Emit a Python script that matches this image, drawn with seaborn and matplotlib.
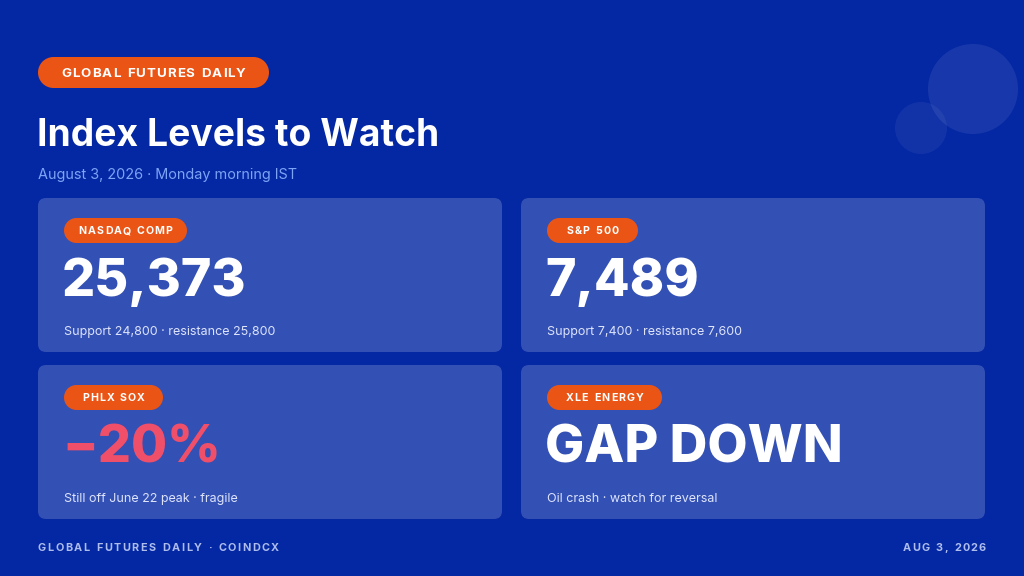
import numpy as np
import pandas as pd
import seaborn as sns
import matplotlib
matplotlib.use('Agg')
import matplotlib.pyplot as plt
from matplotlib.patches import FancyBboxPatch, Circle

# dados do painel
tickers = ['NASDAQ COMP', 'S&P 500', 'PHLX SOX', 'XLE ENERGY']
headlines = ['25,373', '7,489', '\u221220%', 'GAP DOWN']
notes = ['Support 24,800 \u00b7 resistance 25,800',
         'Support 7,400 \u00b7 resistance 7,600',
         'Still off June 22 peak \u00b7 fragile',
         'Oil crash \u00b7 watch for reversal']
is_negative = [False, False, True, False]

badge = 'GLOBAL FUTURES DAILY'
title = 'Index Levels to Watch'
subtitle = 'August 3, 2026 \u00b7 Monday morning IST'
footer_left = 'GLOBAL FUTURES DAILY \u00b7 COINDCX'
footer_right = 'AUG 3, 2026'

# cores
BG = '#0427a3'
CARD = '#3350b4'
ORANGE = '#ea5516'
RED = '#f04f6a'
SUB = '#7da4f5'
NOTE = '#dde4fb'
FOOT = '#aebdec'

sns.set_theme(style='white')
plt.rcParams['font.family'] = ['Inter', 'DejaVu Sans']

fig = plt.figure(figsize=(10.24, 5.76), dpi=100, facecolor=BG)
ax = fig.add_axes([0, 0, 1, 1])
ax.set_xlim(0, 1024)
ax.set_ylim(576, 0)
ax.axis('off')
ax.set_facecolor(BG)

renderer = fig.canvas.get_renderer()


def spaced_text(x, y, s, spacing, ha='left', **kw):
    # texto com espaçamento entre letras, y = centro das maiusculas
    widths = []
    for ch in s:
        t = ax.text(0, 0, ch if ch != ' ' else 'n', **kw)
        w = t.get_window_extent(renderer).width
        if ch == ' ':
            w *= 0.55
        widths.append(w)
        t.remove()
    total = sum(widths) + spacing * (len(s) - 1)
    if ha == 'center':
        x0 = x - total / 2
    elif ha == 'right':
        x0 = x - total
    else:
        x0 = x
    base = y + 0.365 * kw['fontsize'] * 100 / 72
    cx = x0
    for ch, w in zip(s, widths):
        if ch != ' ':
            ax.text(cx, base, ch, ha='left', va='baseline', **kw)
        cx += w + spacing


def pill(x0, y0, w, h, color):
    ax.add_patch(Circle((x0 + h / 2, y0 + h / 2), h / 2, fc=color, ec='none'))
    ax.add_patch(Circle((x0 + w - h / 2, y0 + h / 2), h / 2, fc=color, ec='none'))
    ax.add_patch(plt.Rectangle((x0 + h / 2, y0), w - h, h, fc=color, ec='none'))


# circulos decorativos
ax.add_patch(Circle((973, 89), 45, fc='white', alpha=0.08, ec='none'))
ax.add_patch(Circle((921, 128), 26, fc='white', alpha=0.06, ec='none'))

# cabecalho
pill(38, 57, 231, 31, ORANGE)
spaced_text(153.5, 72.5, badge, 1.0, ha='center', color='white',
            fontsize=9.6, fontweight='bold')
ax.text(37, 136, title, color='white', fontsize=26.8, fontweight='bold',
        va='center', ha='left')
ax.text(38, 175, subtitle, color=SUB, fontsize=10.4, va='center', ha='left')

# cards
card_x = [38, 521]
card_y = [198, 365]
card_w, card_h = 464, 154
pill_w = [123, 91, 99, 115]

for i, (tk, hl, nt, neg) in enumerate(zip(tickers, headlines, notes, is_negative)):
    cx = card_x[i % 2]
    cy = card_y[i // 2]
    ax.add_patch(FancyBboxPatch((cx, cy), card_w, card_h,
                                boxstyle='round,pad=0,rounding_size=8',
                                fc=CARD, ec='none'))
    pill(cx + 26, cy + 20, pill_w[i], 25, ORANGE)
    spaced_text(cx + 26 + pill_w[i] / 2, cy + 32.5, tk, 1.1, ha='center',
                color='white', fontsize=7.6, fontweight='bold')
    ax.text(cx + 24, cy + 84, hl, color=RED if neg else 'white',
            fontsize=37.5, fontweight='heavy', va='center', ha='left')
    ax.text(cx + 26, cy + 134, nt, color=NOTE, fontsize=9.0,
            va='center', ha='left')

# rodape
spaced_text(38, 547, footer_left, 1.5, color=FOOT, fontsize=7.8, fontweight='bold')
spaced_text(986, 547, footer_right, 1.3, ha='right', color=FOOT,
            fontsize=7.8, fontweight='bold')

fig.savefig('out.png', dpi=100, facecolor=BG)
